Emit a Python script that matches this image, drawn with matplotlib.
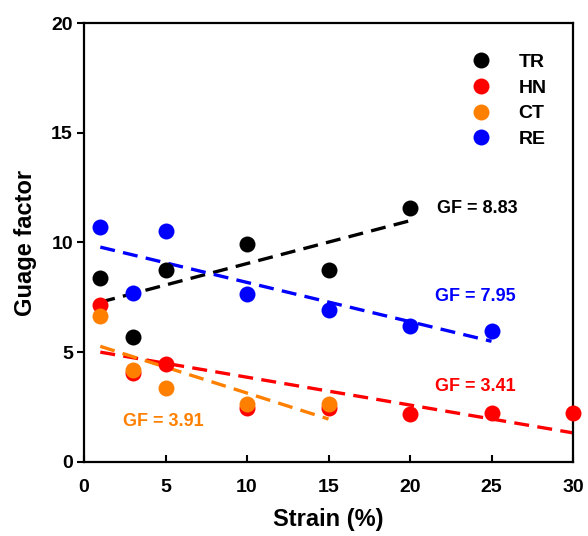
import numpy as np
import matplotlib
matplotlib.use("Agg")
import matplotlib.pyplot as plt

plt.rcParams['font.family'] = ['Liberation Sans', 'DejaVu Sans']
plt.rcParams['font.weight'] = 'bold'

# Strain (%) and gauge factor for each sample
strain_tr = [1, 3, 5, 10, 15, 20]
gf_tr = [8.38, 5.69, 8.75, 9.93, 8.75, 11.57]

strain_hn = [1, 3, 5, 10, 15, 20, 25, 30]
gf_hn = [7.15, 4.05, 4.46, 2.46, 2.46, 2.19, 2.23, 2.23]

strain_ct = [1, 3, 5, 10, 15]
gf_ct = [6.65, 4.19, 3.37, 2.64, 2.64]

strain_re = [1, 3, 5, 10, 15, 20, 25]
gf_re = [10.7, 7.7, 10.52, 7.65, 6.92, 6.2, 5.97]

labels = ['TR', 'HN', 'CT', 'RE']
colors = ['black', '#ff0000', '#ff8000', '#0000ff']
gf_text = ['GF = 8.83', 'GF = 3.41', 'GF = 3.91', 'GF = 7.95']

series = [(strain_tr, gf_tr), (strain_hn, gf_hn), (strain_ct, gf_ct), (strain_re, gf_re)]

fig = plt.figure(figsize=(5.88, 5.36), dpi=100)
ax = fig.add_axes([84/588, 74/536, (573-84)/588, (462-23)/536])

# Linear fits, dashed
for (x, y), c in zip(series, colors):
    x = np.asarray(x, float)
    k, b = np.polyfit(x, y, 1)
    xs = np.array([x.min(), x.max()])
    ax.plot(xs, k * xs + b, ls=(0, (4.5, 2.5)), color=c, lw=2.4, zorder=2)

# Data points
for (x, y), c, lab in zip(series, colors, labels):
    ax.plot(x, y, 'o', color=c, ms=11.5, mec='none', label=lab, zorder=3, clip_on=False)

ax.set_xlim(0, 30)
ax.set_ylim(0, 20)
ax.set_xticks([0, 5, 10, 15, 20, 25, 30])
ax.set_yticks([0, 5, 10, 15, 20])
ax.tick_params(axis='x', direction='in', length=5, width=1.5, labelsize=14, pad=12)
ax.tick_params(axis='y', direction='out', length=5, width=1.5, labelsize=14, pad=3)
for lab in ax.get_xticklabels() + ax.get_yticklabels():
    lab.set_fontweight('bold')
for s in ax.spines.values():
    s.set_linewidth(1.6)

ax.set_xlabel('Strain (%)', fontsize=17, fontweight='bold', labelpad=9)
ax.set_ylabel('Guage factor', fontsize=17, fontweight='bold', labelpad=10)

# GF annotations
ax.text(21.65, 11.55, gf_text[0], color=colors[0], fontsize=13, fontweight='bold', va='center')
ax.text(21.55, 3.46, gf_text[1], color=colors[1], fontsize=13, fontweight='bold', va='center')
ax.text(2.4, 1.83, gf_text[2], color=colors[2], fontsize=13, fontweight='bold', va='center')
ax.text(21.55, 7.55, gf_text[3], color=colors[3], fontsize=13, fontweight='bold', va='center')

leg = ax.legend(loc='upper left', bbox_to_anchor=(0.793, 0.931), frameon=False,
                fontsize=14, handletextpad=1.4, labelspacing=0.42, borderaxespad=0,
                borderpad=0, handlelength=1.0)
for t in leg.get_texts():
    t.set_fontweight('bold')

fig.savefig('out.png', dpi=100)
